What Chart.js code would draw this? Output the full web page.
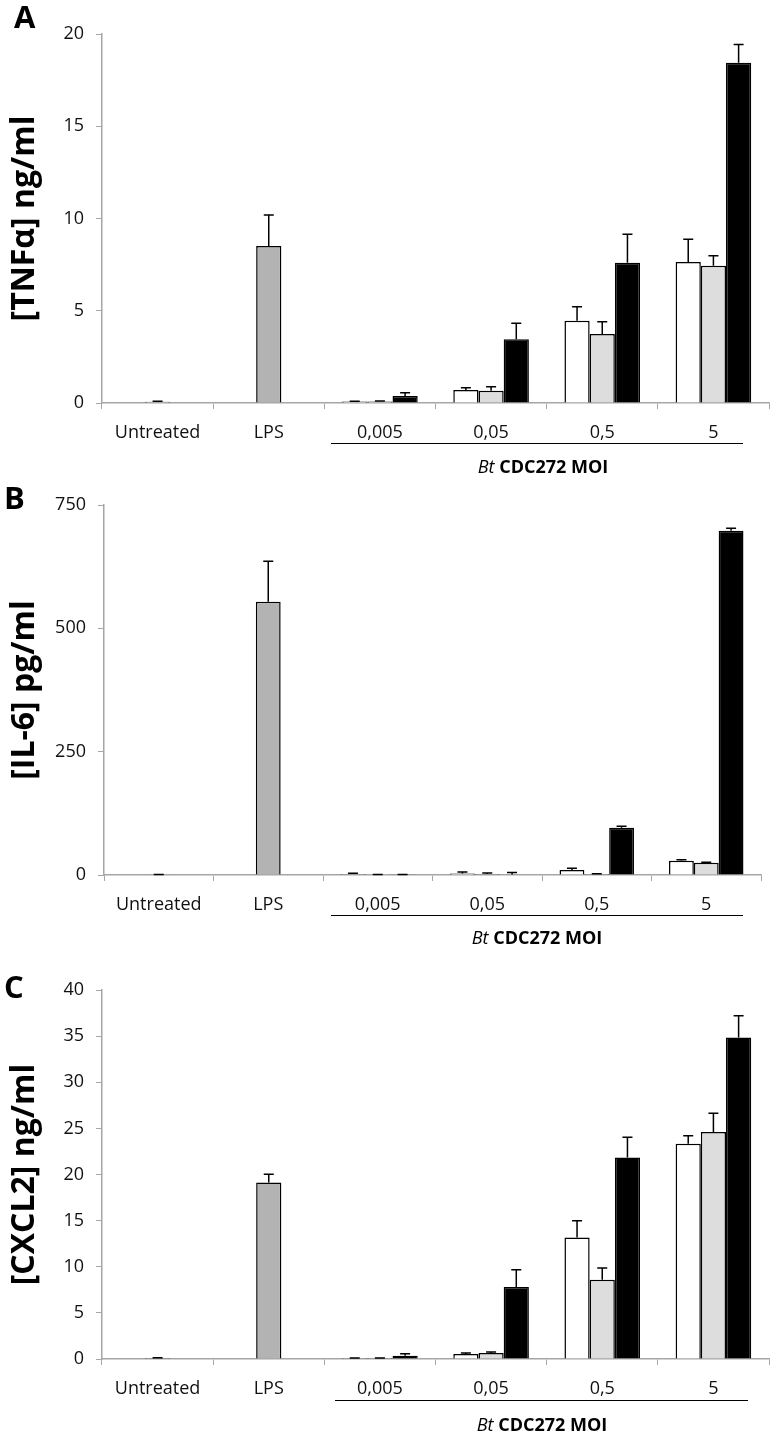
<!DOCTYPE html>
<html>
<head>
<meta charset="utf-8">
<script src="https://cdn.jsdelivr.net/npm/chart.js@4.4.1/dist/chart.umd.min.js"></script>
<style>
  body { margin: 0; background: #fff; font-family: 'Open Sans', sans-serif; }
  #page { position: relative; width: 775px; height: 1432px; overflow: hidden; }
  canvas { position: absolute; left: 0; }
  .letter { position: absolute; font-weight: bold; font-size: 31px; line-height: 1; }
  .moi { position: absolute; width: 300px; text-align: center; font-size: 18px; line-height: 1; }
  .rule { position: absolute; height: 0; border-top: 1.5px solid #000; }
</style>
</head>
<body>
<div id="page">
  <canvas id="chartA" width="775" height="480" style="top:0px"></canvas>
  <canvas id="chartB" width="775" height="470" style="top:480px"></canvas>
  <canvas id="chartC" width="775" height="482" style="top:950px"></canvas>

  <div class="letter" style="left:14px; top:1px">A</div>
  <div class="letter" style="left:4px; top:482px">B</div>
  <div class="letter" style="left:4px; top:971px">C</div>

  <div class="rule" style="left:331px; width:412px; top:443px"></div>
  <div class="rule" style="left:331px; width:412px; top:915px"></div>
  <div class="rule" style="left:335px; width:413px; top:1400px"></div>

  <div class="moi" style="left:393px; top:457px"><i>Bt</i> <b>CDC272 MOI</b></div>
  <div class="moi" style="left:387px; top:928px"><i>Bt</i> <b>CDC272 MOI</b></div>
  <div class="moi" style="left:392px; top:1415px"><i>Bt</i> <b>CDC272 MOI</b></div>
</div>

<script>
const categories = ['Untreated', 'LPS', '0,005', '0,05', '0,5', '5'];

// A - TNFa ng/ml
const tnfWhite = [null, null, 0.08, 0.70, 4.46, 7.64];
const tnfWhiteErr = [null, null, 0.02, 0.13, 0.76, 1.23];
const tnfGray = [0.07, 8.51, 0.08, 0.67, 3.74, 7.44];
const tnfGrayErr = [0.02, 1.68, 0.03, 0.21, 0.67, 0.54];
const tnfBlack = [null, null, 0.38, 3.45, 7.60, 18.44];
const tnfBlackErr = [null, null, 0.18, 0.87, 1.54, 0.99];

// B - IL-6 pg/ml
const il6White = [null, null, 2, 3, 10, 29];
const il6WhiteErr = [null, null, 1.5, 3, 3.5, 2];
const il6Gray = [0.5, 554, 0.5, 2, 2, 25];
const il6GrayErr = [0.3, 82, 0.3, 2, 0.5, 1];
const il6Black = [null, null, 0.5, 1, 96, 698];
const il6BlackErr = [null, null, 0.3, 4, 3, 5];

// C - CXCL2 ng/ml
const cxWhite = [null, null, 0.1, 0.54, 13.18, 23.33];
const cxWhiteErr = [null, null, 0.02, 0.11, 1.8, 0.87];
const cxGray = [0.1, 19.13, 0.1, 0.65, 8.59, 24.6];
const cxGrayErr = [0.03, 0.91, 0.02, 0.11, 1.27, 2.05];
const cxBlack = [null, null, 0.36, 7.8, 21.84, 34.85];
const cxBlackErr = [null, null, 0.21, 1.88, 2.21, 2.35];

const grayFill = ['#b3b3b3', '#b3b3b3', '#dddddd', '#dddddd', '#dddddd', '#dddddd'];
const axisGray = '#a6a6a6';

const errorBars = {
  id: 'errorBars',
  afterDatasetsDraw(chart) {
    const ctx = chart.ctx;
    const yScale = chart.scales.y;
    ctx.save();
    ctx.strokeStyle = '#000';
    ctx.lineWidth = 1.5;
    chart.data.datasets.forEach((ds, i) => {
      chart.getDatasetMeta(i).data.forEach((bar, j) => {
        const v = ds.data[j];
        const e = ds.errors[j];
        if (v == null || e == null) return;
        const top = yScale.getPixelForValue(v + e);
        ctx.beginPath();
        ctx.moveTo(bar.x, bar.y);
        ctx.lineTo(bar.x, top);
        ctx.moveTo(bar.x - 5, top);
        ctx.lineTo(bar.x + 5, top);
        ctx.stroke();
      });
    });
    ctx.restore();
  }
};

function makePanel(id, white, gray, black, whiteErr, grayErr, blackErr, yMax, step, title, box) {
  const ctx = document.getElementById(id).getContext('2d');
  return new Chart(ctx, {
    type: 'bar',
    data: {
      labels: categories,
      datasets: [
        { data: white, errors: whiteErr, backgroundColor: '#ffffff' },
        { data: gray, errors: grayErr, backgroundColor: grayFill },
        { data: black, errors: blackErr, backgroundColor: '#000000' }
      ]
    },
    plugins: [errorBars],
    options: {
      responsive: false,
      animation: false,
      devicePixelRatio: 1,
      categoryPercentage: 0.68,
      barPercentage: 1,
      borderColor: '#000',
      borderWidth: 1.5,
      layout: {
        padding: { top: box.top, right: box.right, left: 0, bottom: 0 }
      },
      scales: {
        x: {
          afterFit: (scale) => { scale.height = box.xHeight; },
          grid: {
            offset: true,
            drawOnChartArea: false,
            tickLength: 6,
            color: axisGray
          },
          border: { color: axisGray, width: 1.5 },
          ticks: {
            padding: 13,
            color: '#111',
            font: { family: 'Open Sans', size: 18 }
          }
        },
        y: {
          min: 0,
          max: yMax,
          afterFit: (scale) => { scale.width = box.left; },
          grid: {
            drawOnChartArea: false,
            tickLength: 6,
            color: axisGray
          },
          border: { color: axisGray, width: 1.5 },
          ticks: {
            stepSize: step,
            padding: 12,
            color: '#111',
            font: { family: 'Open Sans', size: 18 }
          },
          title: {
            display: true,
            text: title,
            color: '#000',
            padding: { top: 6, bottom: 0 },
            font: { family: 'Open Sans', size: 32, weight: 'bold' }
          }
        }
      },
      plugins: {
        legend: { display: false },
        tooltip: { enabled: false }
      }
    }
  });
}

makePanel('chartA', tnfWhite, tnfGray, tnfBlack, tnfWhiteErr, tnfGrayErr, tnfBlackErr,
  20, 5, '[TNFα] ng/ml', { top: 34, right: 6, left: 102, xHeight: 77 });
makePanel('chartB', il6White, il6Gray, il6Black, il6WhiteErr, il6GrayErr, il6BlackErr,
  750, 250, '[IL-6] pg/ml', { top: 25, right: 14, left: 104, xHeight: 75 });
makePanel('chartC', cxWhite, cxGray, cxBlack, cxWhiteErr, cxGrayErr, cxBlackErr,
  40, 5, '[CXCL2] ng/ml', { top: 40, right: 6, left: 102, xHeight: 73 });
</script>
</body>
</html>
